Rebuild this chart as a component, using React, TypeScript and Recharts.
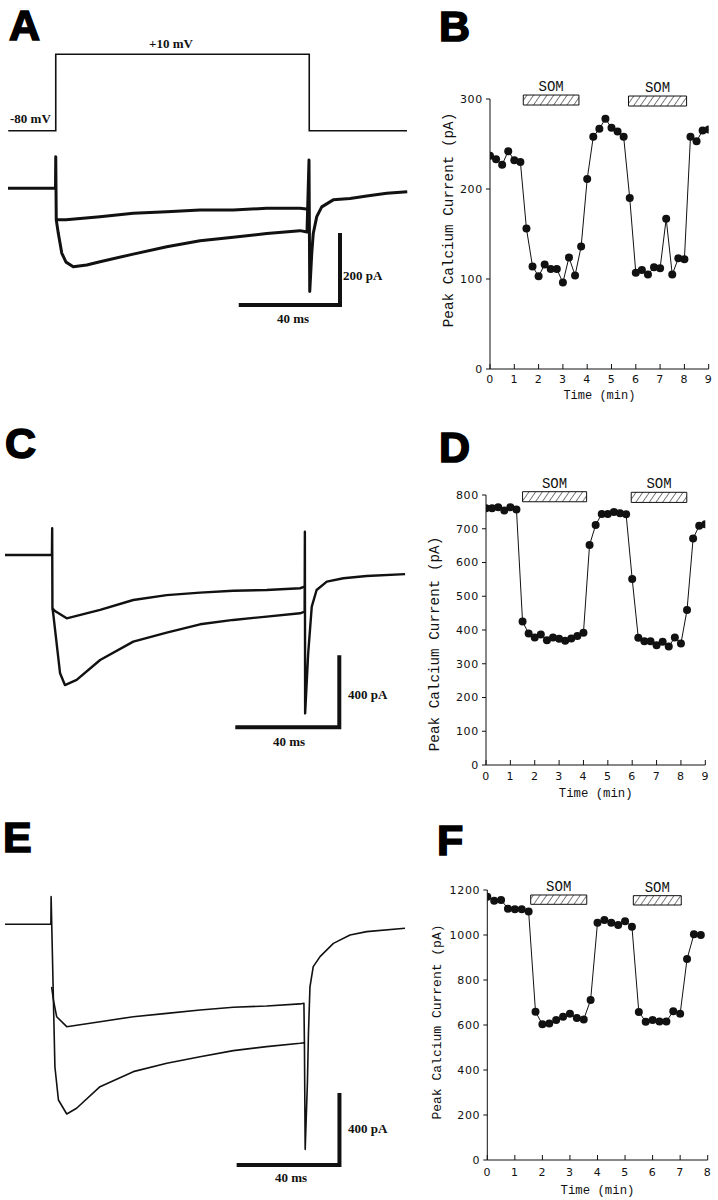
import React from 'react';
import { LineChart, ComposedChart, Line, XAxis, YAxis, ReferenceArea, Label } from 'recharts';

// ---------- Panel B (peak Ca current vs time) ----------
const timesB = [0, 0.25, 0.5, 0.75, 1, 1.25, 1.5, 1.75, 2, 2.25, 2.5, 2.75, 3, 3.25, 3.5, 3.75, 4, 4.25, 4.5, 4.75, 5, 5.25, 5.5, 5.75, 6, 6.25, 6.5, 6.75, 7, 7.25, 7.5, 7.75, 8, 8.25, 8.5, 8.75, 9];
const currentB = [237, 233, 227, 242, 232, 230, 156, 114, 103, 116, 111, 111, 96, 124, 104, 136, 211, 258, 267, 278, 268, 264, 258, 190, 107, 110, 105, 113, 112, 167, 105, 123, 122, 258, 253, 265, 266];
const somStartB = [1.37, 5.7];
const somEndB = [3.66, 8.09];
const somTopB = [304.4, 303.3];
const somBottomB = [293.3, 292.2];
const yTicksB = [0, 100, 200, 300];
const xTicks9 = [0, 1, 2, 3, 4, 5, 6, 7, 8, 9];

// ---------- Panel D ----------
const timesD = [0, 0.25, 0.5, 0.75, 1, 1.25, 1.5, 1.75, 2, 2.25, 2.5, 2.75, 3, 3.25, 3.5, 3.75, 4, 4.25, 4.5, 4.75, 5, 5.25, 5.5, 5.75, 6, 6.25, 6.5, 6.75, 7, 7.25, 7.5, 7.75, 8, 8.25, 8.5, 8.75, 9];
const currentD = [761, 761, 764, 754, 764, 757, 425, 390, 378, 387, 370, 378, 374, 368, 375, 382, 392, 652, 711, 744, 744, 750, 746, 743, 551, 377, 367, 367, 355, 365, 351, 378, 360, 459, 671, 709, 713];
const somStartD = [1.5, 5.96];
const somEndD = [4.13, 8.24];
const somTopD = [809.8, 808];
const somBottomD = [780, 778];
const yTicksD = [0, 100, 200, 300, 400, 500, 600, 700, 800];

// ---------- Panel F ----------
const timesF = [0, 0.25, 0.5, 0.75, 1, 1.25, 1.5, 1.75, 2, 2.25, 2.5, 2.75, 3, 3.25, 3.5, 3.75, 4, 4.25, 4.5, 4.75, 5, 5.25, 5.5, 5.75, 6, 6.25, 6.5, 6.75, 7, 7.25, 7.5, 7.75];
const currentF = [1170, 1152, 1156, 1117, 1115, 1114, 1104, 659, 603, 607, 622, 637, 650, 631, 625, 711, 1055, 1067, 1055, 1044, 1061, 1037, 658, 615, 622, 616, 616, 661, 650, 893, 1003, 1000];
const somStartF = [1.575, 5.3];
const somEndF = [3.61, 7.04];
const somTopF = [1177.8, 1174.8];
const somBottomF = [1136.4, 1133.3];
const yTicksF = [0, 200, 400, 600, 800, 1000, 1200];
const xTicks8 = [0, 1, 2, 3, 4, 5, 6, 7, 8];

// ---------- Panel A (current traces, ms / pA; voltage step mV) ----------
const stepA_t = [0.1, 19.1, 19.1, 120.5, 120.5, 159.6];
const stepA_v = [-80, -80, 10, 10, -80, -80];
const ctrlA_t = [0, 19.0, 19.1, 19.3, 20.1, 21.5, 23.2, 26.1, 31.5, 36.8, 50.1, 63.5, 76.8, 90.1, 103.5, 116.8, 119.6, 120.4, 120.7, 121.5, 122.1, 123.5, 125.5, 130.1, 136.8, 143.5, 151.5, 159.7];
const ctrlA_i = [0, 0, 90, -90, -128, -185, -211, -224, -219, -210, -188, -167, -150, -140, -129, -121, -125, 81, -295, -186, -129, -81, -53, -33, -29, -22, -14, -10];
const somA_t = [19.3, 23.2, 36.8, 50.1, 63.5, 76.8, 90.1, 103.5, 116.8, 120.2];
const somA_i = [-90, -90, -81, -71, -67, -62, -62, -57, -57, -60];
const scaleA_t = [93.1, 132.8, 132.8];
const scaleA_i = [-333.4, -333.4, -133.4];

// ---------- Panel C ----------
const ctrlC_t = [0, 18.4, 18.5, 18.6, 18.9, 21.6, 23.5, 28.1, 37.3, 50.3, 63.4, 76.5, 89.5, 102.6, 115.7, 117.5, 117.6, 117.7, 118.9, 120.3, 122.2, 126.2, 132.7, 141.8, 156.9];
const ctrlC_i = [0, 0, 153, -305, -333, -676, -743, -714, -600, -495, -444, -396, -371, -352, -333, -324, 133, -905, -562, -295, -200, -152, -133, -120, -109];
const somC_t = [18.6, 19.6, 24.2, 37.3, 50.3, 63.4, 76.5, 89.5, 102.6, 115.7, 117.5];
const somC_i = [-305, -320, -362, -314, -257, -229, -215, -204, -200, -190, -181];
const scaleC_t = [91.1, 131.1, 131.1];
const scaleC_i = [-984.6, -984.6, -584.6];

// ---------- Panel E ----------
const ctrlE_t = [0, 18.2, 18.3, 19.8, 21.2, 24.5, 28.4, 37.7, 50.9, 64.2, 77.4, 90.6, 103.8, 117.1, 118.8, 119.1, 120.0, 120.4, 121.0, 122.3, 125.0, 130.3, 136.9, 143.5, 158.7];
const ctrlE_i = [0, 0, 158, -814, -1004, -1084, -1051, -928, -842, -794, -757, -722, -699, -680, -677, -1286, -900, -623, -357, -242, -185, -109, -61, -42, -23];
const somE_t = [18.5, 19.2, 20.5, 24.5, 37.7, 50.9, 64.2, 77.4, 90.6, 103.8, 117.1, 118.6, 118.8];
const somE_i = [-357, -432, -528, -585, -557, -528, -509, -490, -474, -467, -455, -451, -680];
const scaleE_t = [92.7, 132.7, 132.7];
const scaleE_i = [-1375.4, -1375.4, -975.4];

const zip = (ts: number[], vs: number[]) => ts.map((t, i) => ({ t, v: vs[i] }));

const INK = '#111';

type TraceProps = {
  left: number; top: number; width: number; height: number;
  xDomain: [number, number]; yDomain: [number, number];
  traces: { t: number; v: number }[][];
  strokeWidth: number;
  scaleBar: { t: number; v: number }[];
  voltage?: { t: number; v: number }[];
  vDomain?: [number, number];
};

function TracePanel(p: TraceProps) {
  return (
    <div style={{ position: 'absolute', left: p.left, top: p.top, width: p.width, height: p.height }}>
      <LineChart width={p.width} height={p.height} margin={{ top: 0, right: 0, bottom: 0, left: 0 }}>
        <XAxis type="number" dataKey="t" domain={p.xDomain} hide allowDataOverflow />
        <YAxis yAxisId="i" type="number" dataKey="v" domain={p.yDomain} hide width={0} allowDataOverflow />
        {p.vDomain && <YAxis yAxisId="v" type="number" dataKey="v" domain={p.vDomain} hide width={0} allowDataOverflow />}
        {p.voltage && (
          <Line yAxisId="v" data={p.voltage} dataKey="v" type="linear" stroke={INK} strokeWidth={1.6}
            dot={false} activeDot={false} isAnimationActive={false} />
        )}
        {p.traces.map((d, k) => (
          <Line key={k} yAxisId="i" data={d} dataKey="v" type="linear" stroke={INK} strokeWidth={p.strokeWidth}
            strokeLinejoin="round" dot={false} activeDot={false} isAnimationActive={false} />
        ))}
        <Line yAxisId="i" data={p.scaleBar} dataKey="v" type="linear" stroke={INK} strokeWidth={4}
          strokeLinejoin="miter" strokeLinecap="square" dot={false} activeDot={false} isAnimationActive={false} />
      </LineChart>
    </div>
  );
}

type TimeProps = {
  left: number; top: number; width: number; height: number;
  margin: { top: number; right: number; bottom: number; left: number };
  times: number[]; values: number[];
  xMax: number; xTicks: number[];
  yMax: number; yTicks: number[];
  somStart: number[]; somEnd: number[]; somTop: number[]; somBottom: number[];
  hatchId: string;
  xTickMargin: number;
};

function TimePanel(p: TimeProps) {
  const data = zip(p.times, p.values);
  const tickStyle = { fontSize: 11, fontFamily: 'DejaVu Sans', fill: INK, letterSpacing: 0.7 };
  return (
    <div style={{ position: 'absolute', left: p.left, top: p.top, width: p.width, height: p.height }}>
      <ComposedChart width={p.width} height={p.height} data={data} margin={p.margin}>
        <defs>
          <pattern id={p.hatchId} width="5.5" height="5.5" patternUnits="userSpaceOnUse" patternTransform="rotate(35)">
            <rect width="5.5" height="5.5" fill="#fff" />
            <line x1="0" y1="0" x2="0" y2="5.5" stroke={INK} strokeWidth="1.1" />
          </pattern>
        </defs>
        <XAxis type="number" dataKey="t" domain={[0, p.xMax]} ticks={p.xTicks} interval={0}
          axisLine={{ stroke: INK, strokeWidth: 1 }} tickLine={{ stroke: INK, strokeWidth: 1 }}
          tickSize={-5} tickMargin={p.xTickMargin} tick={tickStyle} height={30} allowDataOverflow />
        <YAxis type="number" dataKey="v" domain={[0, p.yMax]} ticks={p.yTicks} interval={0}
          axisLine={{ stroke: INK, strokeWidth: 1 }} tickLine={{ stroke: INK, strokeWidth: 1 }}
          tickSize={4} tickMargin={3} tick={tickStyle} width={60} allowDataOverflow />
        {p.somStart.map((s, k) => (
          <ReferenceArea key={k} x1={s} x2={p.somEnd[k]} y1={p.somBottom[k]} y2={p.somTop[k]}
            fill={`url(#${p.hatchId})`} fillOpacity={1} stroke={INK} strokeWidth={1} ifOverflow="visible">
            <Label value="SOM" position="top" offset={4} fontSize={14} fontFamily="Liberation Mono" fill={INK} />
          </ReferenceArea>
        ))}
        <Line dataKey="v" type="linear" stroke={INK} strokeWidth={1}
          dot={{ r: 4, fill: INK, stroke: INK, strokeWidth: 0 }} activeDot={false} isAnimationActive={false} />
      </ComposedChart>
    </div>
  );
}

const serifLabel = { fontFamily: 'Liberation Serif', fontWeight: 700, fontSize: 13, fill: INK } as const;
const letterStyle = { fontFamily: 'Liberation Sans', fontWeight: 700, fontSize: 43, fill: '#000', stroke: '#000', strokeWidth: 1.6 } as const;
const monoStyle = { fontFamily: 'Liberation Mono', fill: INK } as const;

export default function App() {
  return (
    <div style={{ position: 'absolute', left: 0, top: 0, width: 718, height: 1200, background: '#fff', overflow: 'hidden' }}>
      <TracePanel left={8} top={40} width={400} height={290} xDomain={[0, 160]} yDomain={[-405, 424]}
        vDomain={[-314.7, 26.8]} voltage={zip(stepA_t, stepA_v)}
        traces={[zip(ctrlA_t, ctrlA_i), zip(somA_t, somA_i)]} strokeWidth={3}
        scaleBar={zip(scaleA_t, scaleA_i)} />
      <TracePanel left={5} top={460} width={402} height={300} xDomain={[0, 157.65]} yDomain={[-1171.4, 542.9]}
        traces={[zip(ctrlC_t, ctrlC_i), zip(somC_t, somC_i)]} strokeWidth={2.4}
        scaleBar={zip(scaleC_t, scaleC_i)} />
      <TracePanel left={5} top={860} width={402} height={310} xDomain={[0, 159.5]} yDomain={[-1404, 367.4]}
        traces={[zip(ctrlE_t, ctrlE_i), zip(somE_t, somE_i)]} strokeWidth={1.6}
        scaleBar={zip(scaleE_t, scaleE_i)} />

      <TimePanel left={410} top={60} width={308} height={350} margin={{ top: 39, right: 9.3, bottom: 11, left: 20 }}
        times={timesB} values={currentB} xMax={9} xTicks={xTicks9} yMax={300} yTicks={yTicksB}
        somStart={somStartB} somEnd={somEndB} somTop={somTopB} somBottom={somBottomB} hatchId="hatchB" xTickMargin={11.5} />
      <TimePanel left={410} top={450} width={308} height={350} margin={{ top: 45, right: 12.7, bottom: 5, left: 16 }}
        times={timesD} values={currentD} xMax={9} xTicks={xTicks9} yMax={800} yTicks={yTicksD}
        somStart={somStartD} somEnd={somEndD} somTop={somTopD} somBottom={somBottomD} hatchId="hatchD" xTickMargin={12.5} />
      <TimePanel left={410} top={850} width={308} height={350} margin={{ top: 40, right: 10.3, bottom: 10, left: 17.3 }}
        times={timesF} values={currentF} xMax={8} xTicks={xTicks8} yMax={1200} yTicks={yTicksF}
        somStart={somStartF} somEnd={somEndF} somTop={somTopF} somBottom={somBottomF} hatchId="hatchF" xTickMargin={13} />

      <svg width={718} height={1200} style={{ position: 'absolute', left: 0, top: 0, pointerEvents: 'none' }}>
        <text x={9} y={39.5} style={letterStyle}>A</text>
        <text x={439} y={40.5} style={letterStyle}>B</text>
        <text x={5} y={458} style={letterStyle}>C</text>
        <text x={439} y={461.7} style={letterStyle}>D</text>
        <text x={3} y={851.7} style={letterStyle}>E</text>
        <text x={437} y={855} style={letterStyle}>F</text>

        <text x={171} y={47.5} textAnchor="middle" style={serifLabel}>+10 mV</text>
        <text x={10} y={122.5} style={serifLabel}>-80 mV</text>
        <text x={343} y={279.5} style={serifLabel}>200 pA</text>
        <text x={277} y={322.5} style={serifLabel}>40 ms</text>
        <text x={348} y={698.5} style={serifLabel}>400 pA</text>
        <text x={273} y={746} style={serifLabel}>40 ms</text>
        <text x={348} y={1132.8} style={serifLabel}>400 pA</text>
        <text x={275} y={1182} style={serifLabel}>40 ms</text>

        <text x={453} y={220} transform="rotate(-90 453 220)" textAnchor="middle" style={{ ...monoStyle, fontSize: 14.3 }}>Peak Calcium Current (pA)</text>
        <text x={439} y={644} transform="rotate(-90 439 644)" textAnchor="middle" style={{ ...monoStyle, fontSize: 14.3 }}>Peak Calcium Current (pA)</text>
        <text x={441} y={1022} transform="rotate(-90 441 1022)" textAnchor="middle" style={{ ...monoStyle, fontSize: 13 }}>Peak Calcium Current (pA)</text>

        <text x={599.4} y={399} textAnchor="middle" style={{ ...monoStyle, fontSize: 12 }}>Time (min)</text>
        <text x={595.7} y={797} textAnchor="middle" style={{ ...monoStyle, fontSize: 12.3 }}>Time (min)</text>
        <text x={597.5} y={1194} textAnchor="middle" style={{ ...monoStyle, fontSize: 12.3 }}>Time (min)</text>
      </svg>
    </div>
  );
}
